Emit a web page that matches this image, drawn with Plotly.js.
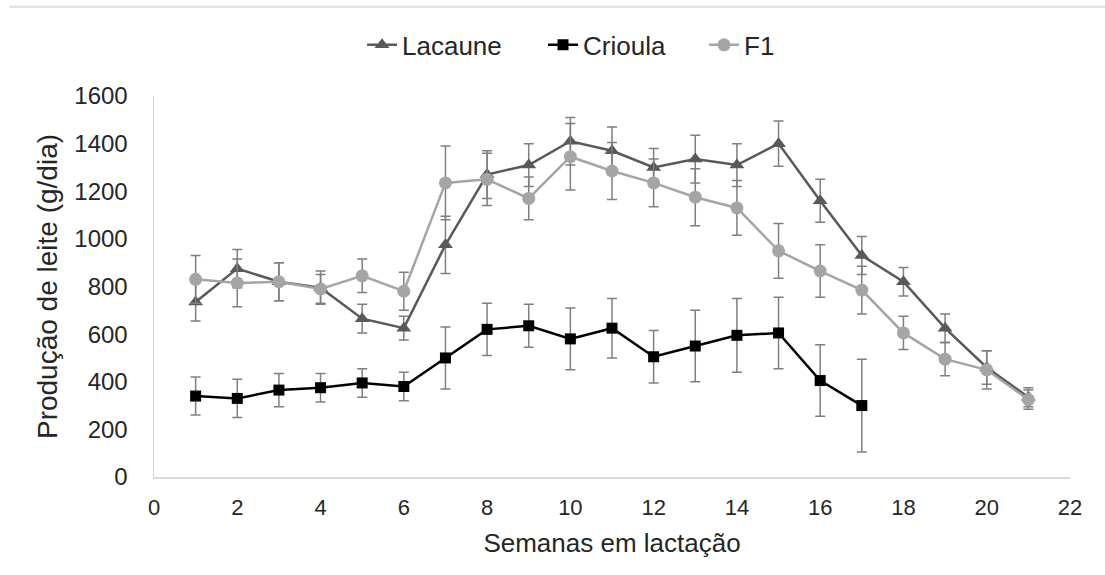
<!DOCTYPE html>
<html>
<head>
<meta charset="utf-8">
<script src="https://cdn.plot.ly/plotly-3.0.1.min.js"></script>
<style>html,body{margin:0;padding:0;background:#fff;}#chart{width:1105px;height:575px;}</style>
</head>
<body>
<div id="chart"></div>
<script>
const weeks = [1,2,3,4,5,6,7,8,9,10,11,12,13,14,15,16,17,18,19,20,21];
const weeksCrioula = [1,2,3,4,5,6,7,8,9,10,11,12,13,14,15,16,17];

const lacaune    = [735,875,820,795,665,625,975,1270,1310,1410,1370,1300,1335,1310,1400,1160,930,820,625,460,335];
const lacauneErr = [80,80,80,70,60,50,120,100,90,100,100,80,100,90,95,90,80,60,60,70,40];

const crioula    = [340,330,365,375,395,380,500,620,635,580,625,505,550,595,605,405,300];
const crioulaErr = [80,80,70,60,60,60,130,110,90,130,125,110,150,155,150,150,195];

const f1    = [830,815,820,790,845,780,1235,1250,1170,1345,1285,1235,1175,1130,950,865,785,605,495,450,325];
const f1Err = [100,100,80,60,70,80,155,110,90,140,120,100,120,115,115,110,100,70,70,80,40];

const errColor = '#7f7f7f';
function errs(arr){ return {type:'data', array:arr, visible:true, color:errColor, thickness:1.5, width:5}; }

const traces = [
  {x: weeks, y: lacaune, name: 'Lacaune', type: 'scatter', mode: 'lines+markers', legend:'legend',
   line: {color:'#595959', width:2.5}, marker:{symbol:'triangle-up', size:13, color:'#595959'},
   error_y: errs(lacauneErr)},
  {x: weeksCrioula, y: crioula, name: 'Crioula', type: 'scatter', mode: 'lines+markers', legend:'legend2',
   line: {color:'#000000', width:2.5}, marker:{symbol:'square', size:11, color:'#000000'},
   error_y: errs(crioulaErr)},
  {x: weeks, y: f1, name: 'F1', type: 'scatter', mode: 'lines+markers', legend:'legend3',
   line: {color:'#a5a5a5', width:2.5}, marker:{symbol:'circle', size:13, color:'#a5a5a5'},
   error_y: errs(f1Err)}
];

function leg(xp){
  return {orientation:'h', x:xp, xanchor:'left', y:1.134, yanchor:'middle',
          font:{size:26, color:'#262626'}, bgcolor:'rgba(0,0,0,0)'};
}

const layout = {
  width: 1105, height: 575,
  margin: {l:154, r:35, t:96, b:98},
  paper_bgcolor:'#fff', plot_bgcolor:'#fff',
  font: {family:'Liberation Sans, Arial, sans-serif', color:'#262626', size:22},
  showlegend: true,
  legend: leg(0.2271),
  legend2: leg(0.4247),
  legend3: leg(0.6005),
  xaxis: {range:[0,22], tickvals:[0,2,4,6,8,10,12,14,16,18,20,22], showgrid:false, zeroline:false,
          showline:true, linecolor:'#d9d9d9', linewidth:1.5, ticks:'', ticklabelstandoff:10,
          tickfont:{size:22, color:'#262626'},
          title:{text:'Semanas em lactação', font:{size:26, color:'#262626'}, standoff:15}},
  yaxis: {range:[0,1600], tickvals:[0,200,400,600,800,1000,1200,1400,1600], showgrid:false, zeroline:false,
          showline:true, linecolor:'#d9d9d9', linewidth:1.5, ticks:'', ticklabelstandoff:20,
          tickfont:{size:24, color:'#262626'},
          title:{text:'Produção de leite (g/dia)', font:{size:28, color:'#262626'}, standoff:8}},
  shapes: [
    {type:'line', xref:'paper', yref:'paper', x0:-0.158, x1:1.05, y0:1.234, y1:1.234,
     line:{color:'#dcdcdc', width:2}}
  ]
};

Plotly.newPlot('chart', traces, layout, {displayModeBar:false, staticPlot:true});
</script>
</body>
</html>
